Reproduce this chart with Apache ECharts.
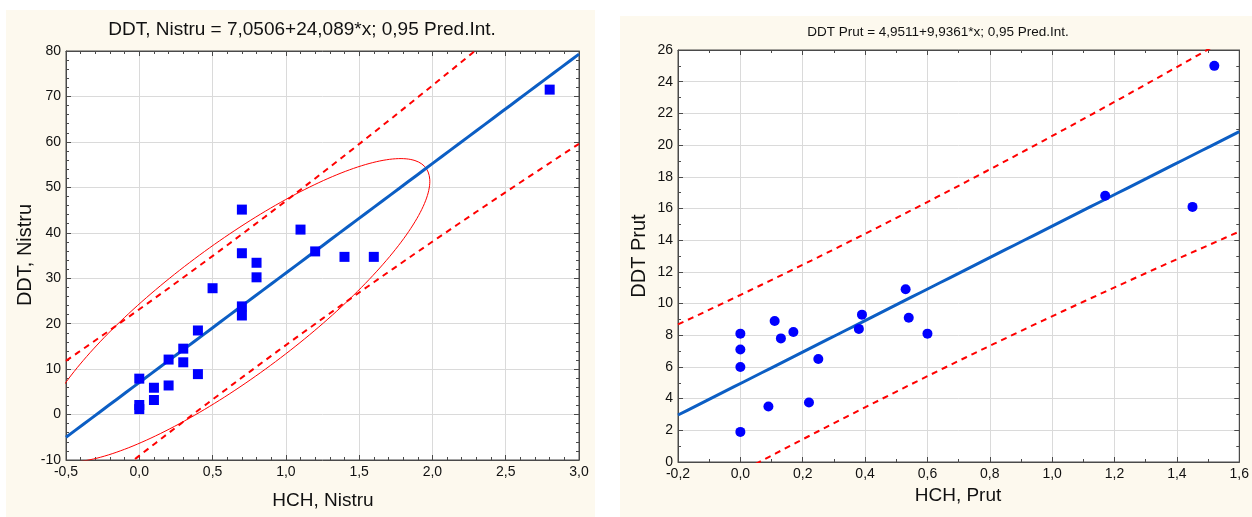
<!DOCTYPE html>
<html>
<head>
<meta charset="utf-8">
<script src="https://cdn.jsdelivr.net/npm/echarts@6/dist/echarts.min.js"></script>
<style>
  html, body { margin: 0; padding: 0; background: #ffffff; }
  #chart { width: 1252px; height: 517px; }
</style>
</head>
<body>
<div id="chart"></div>
<script>
// ---- Nistru river: HCH vs DDT ----
const nistruHCH = [0.7, 1.1, 1.2, 1.4, 1.6, 0.7, 0.8, 0.8, 0.5, 0.7, 0.7, 0.4,
                   0.3, 0.2, 0.3, 0.4, 0.0, 0.1, 0.2, 0.1, 0.0, 0.0, 2.8];
const nistruDDT = [45.1, 40.7, 35.9, 34.7, 34.7, 35.5, 33.4, 30.2, 27.8, 23.8, 21.8, 18.5,
                   14.5, 12.1, 11.5, 8.9, 7.9, 5.9, 6.4, 3.2, 2.1, 1.2, 71.5];
const nistruFit = [7.0506, 24.089];          // intercept, slope
const nistruEllipseShape = [1.33, 33.4, 0.85]; // half-width in x, half-height in y, tilt (correlation)
const nistruTitle = 'DDT, Nistru = 7,0506+24,089*x; 0,95 Pred.Int.';
const nistruXRange = [-0.5, 3.0, 0.5];        // min, max, step
const nistruYRange = [-10, 80, 10];

// ---- Prut river: HCH vs DDT ----
const prutHCH = [1.17, 1.45, 0.53, 0.39, 0.38, 0.54, 0.60, 0.0, 0.0, 0.0, 0.0,
                 0.11, 0.13, 0.17, 0.25, 0.09, 0.22, 1.52];
const prutDDT = [16.8, 16.1, 10.9, 9.3, 8.4, 9.1, 8.1, 8.1, 7.1, 6.0, 1.9,
                 8.9, 7.8, 8.2, 6.5, 3.5, 3.75, 25.0];
const prutFit = [4.9511, 9.9361];
const prutTitle = 'DDT Prut = 4,9511+9,9361*x; 0,95 Pred.Int.';
const prutXRange = [-0.2, 1.6, 0.2];
const prutYRange = [0, 26, 2];

// Student t quantiles (0.975) for n-2 degrees of freedom
const tQuantile = { 21: 2.0796, 16: 2.1199 };

function stats(xs, ys) {
  const n = xs.length;
  const mx = xs.reduce((a, b) => a + b, 0) / n;
  const my = ys.reduce((a, b) => a + b, 0) / n;
  let sxx = 0;
  for (let i = 0; i < n; i++) sxx += (xs[i] - mx) ** 2;
  return { n, mx, my, sxx };
}

function fitLine(fit, range) {
  const pts = [];
  const steps = 60;
  for (let i = 0; i <= steps; i++) {
    const x = range[0] + (range[1] - range[0]) * i / steps;
    pts.push([x, fit[0] + fit[1] * x]);
  }
  return pts;
}

// 95% prediction band around the fitted line
function predBands(xs, ys, fit, range) {
  const s = stats(xs, ys);
  let sse = 0;
  for (let i = 0; i < s.n; i++) sse += (ys[i] - fit[0] - fit[1] * xs[i]) ** 2;
  const se = Math.sqrt(sse / (s.n - 2));
  const t = tQuantile[s.n - 2];
  const upper = [], lower = [];
  const steps = 80;
  for (let i = 0; i <= steps; i++) {
    const x = range[0] + (range[1] - range[0]) * i / steps;
    const yh = fit[0] + fit[1] * x;
    const h = t * se * Math.sqrt(1 + 1 / s.n + (x - s.mx) ** 2 / s.sxx);
    upper.push([x, yh + h]);
    lower.push([x, yh - h]);
  }
  return { upper, lower };
}

// ellipse centred on the data mean
function ellipse(xs, ys, shape) {
  const s = stats(xs, ys);
  const [ax, ay, r] = shape;
  const q = Math.sqrt(1 - r * r);
  const pts = [];
  const steps = 240;
  for (let i = 0; i <= steps; i++) {
    const a = 2 * Math.PI * i / steps;
    const u = Math.cos(a), v = Math.sin(a);
    pts.push([s.mx + ax * u, s.my + ay * (r * u + q * v)]);
  }
  return pts;
}

const zip = (a, b) => a.map((v, i) => [v, b[i]]);
const comma = (v, d) => v.toFixed(d).replace('.', ',');

const FONT = '"Liberation Sans", Arial, sans-serif';
const blue = '#0000ff';
const lineBlue = '#0c5ec4';
const red = '#ff0000';
const frame = '#4a4a4a';
const gridColor = '#dadada';

function axisPair(kind, gridIndex, range, minorSplit, decimals) {
  const common = {
    type: 'value', gridIndex,
    min: range[0], max: range[1], interval: range[2],
    axisLine: { show: true, onZero: false, lineStyle: { color: frame, width: 1 } },
    axisTick: { show: true, inside: true, length: 5, lineStyle: { color: frame } },
    minorTick: { show: true, splitNumber: minorSplit, length: 3, lineStyle: { color: frame } },
  };
  const main = Object.assign({}, common, {
    position: kind === 'x' ? 'bottom' : 'left',
    splitLine: { show: true, lineStyle: { color: gridColor, width: 1 } },
    axisLabel: {
      show: true, color: '#111', fontFamily: FONT, fontSize: 14,
      margin: 5,
      showMinLabel: true, showMaxLabel: true,
      formatter: v => comma(v, decimals)
    }
  });
  const opp = Object.assign({}, common, {
    position: kind === 'x' ? 'top' : 'right',
    splitLine: { show: false },
    axisLabel: { show: false }
  });
  return [main, opp];
}

const nBand = predBands(nistruHCH, nistruDDT, nistruFit, nistruXRange);
const pBand = predBands(prutHCH, prutDDT, prutFit, prutXRange);
const nEllipse = ellipse(nistruHCH, nistruDDT, nistruEllipseShape);

const chart = echarts.init(document.getElementById('chart'), null, { renderer: 'canvas' });

const dash = { color: red, width: 2, type: [6, 5] };
const text = (t, x, y, size, rot) => ({
  type: 'text', x, y, rotation: rot || 0,
  style: { text: t, x: 0, y: 0, align: 'center', verticalAlign: 'middle', font: size + 'px ' + FONT, fill: '#111' }
});

const option = {
  animation: false,
  backgroundColor: '#ffffff',
  graphic: [
    { type: 'rect', z: -10, shape: { x: 6, y: 10, width: 589, height: 507 }, style: { fill: '#fdf9ee' } },
    { type: 'rect', z: -10, shape: { x: 620, y: 16, width: 632, height: 501 }, style: { fill: '#fdf9ee' } },
    text(nistruTitle, 302, 30, 19),
    text(prutTitle, 938, 32, 13.5),
    text('HCH, Nistru', 323, 501, 19),
    text('HCH, Prut', 958, 496, 19),
    text('DDT, Nistru', 25, 255, 20, Math.PI / 2),
    text('DDT Prut', 639, 256, 20, Math.PI / 2)
  ],
  grid: [
    { left: 66, top: 51, width: 513, height: 409, show: true, backgroundColor: '#ffffff', borderColor: frame, borderWidth: 1 },
    { left: 678, top: 50, width: 562, height: 412, show: true, backgroundColor: '#ffffff', borderColor: frame, borderWidth: 1 }
  ],
  xAxis: [
    ...axisPair('x', 0, nistruXRange, 5, 1),
    ...axisPair('x', 1, prutXRange, 2, 1)
  ],
  yAxis: [
    ...axisPair('y', 0, nistruYRange, 5, 0),
    ...axisPair('y', 1, prutYRange, 2, 0)
  ],
  series: [
    { type: 'line', xAxisIndex: 0, yAxisIndex: 0, data: nBand.upper, showSymbol: false, symbol: 'none', clip: true,
      lineStyle: dash, z: 3 },
    { type: 'line', xAxisIndex: 0, yAxisIndex: 0, data: nBand.lower, showSymbol: false, symbol: 'none', clip: true,
      lineStyle: dash, z: 3 },
    { type: 'line', xAxisIndex: 0, yAxisIndex: 0, data: nEllipse, showSymbol: false, symbol: 'none', clip: true,
      lineStyle: { color: red, width: 1 }, z: 3 },
    { type: 'line', xAxisIndex: 0, yAxisIndex: 0, data: fitLine(nistruFit, nistruXRange), showSymbol: false, symbol: 'none',
      clip: true, lineStyle: { color: lineBlue, width: 3 }, z: 4 },
    { type: 'scatter', xAxisIndex: 0, yAxisIndex: 0, data: zip(nistruHCH, nistruDDT), symbol: 'rect', symbolSize: 10,
      itemStyle: { color: blue, opacity: 1 }, z: 5 },

    { type: 'line', xAxisIndex: 2, yAxisIndex: 2, data: pBand.upper, showSymbol: false, symbol: 'none', clip: true,
      lineStyle: dash, z: 3 },
    { type: 'line', xAxisIndex: 2, yAxisIndex: 2, data: pBand.lower, showSymbol: false, symbol: 'none', clip: true,
      lineStyle: dash, z: 3 },
    { type: 'line', xAxisIndex: 2, yAxisIndex: 2, data: fitLine(prutFit, prutXRange), showSymbol: false, symbol: 'none',
      clip: true, lineStyle: { color: lineBlue, width: 3 }, z: 4 },
    { type: 'scatter', xAxisIndex: 2, yAxisIndex: 2, data: zip(prutHCH, prutDDT), symbol: 'circle', symbolSize: 10,
      itemStyle: { color: blue, opacity: 1 }, z: 5 }
  ]
};

chart.setOption(option);
</script>
</body>
</html>
